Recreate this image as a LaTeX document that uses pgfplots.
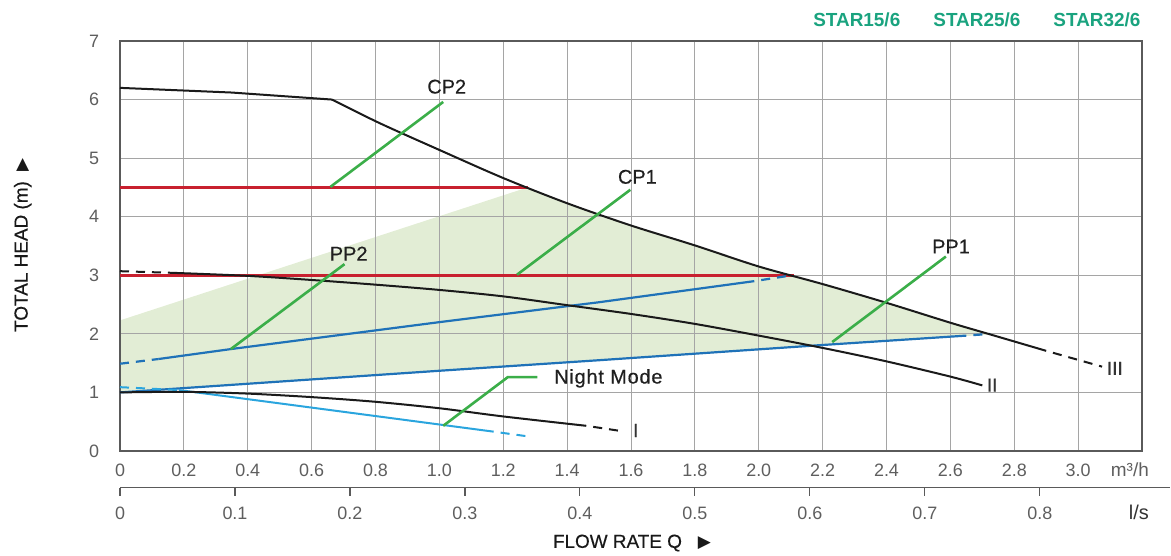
\documentclass[border=0pt]{standalone}
\usepackage{fontspec}
\setmainfont{Liberation Sans}
\newfontfamily\sym{DejaVu Sans}
\newfontfamily\med[FakeBold=0.4]{Liberation Sans}
\usepackage{pgfplots}
\pgfplotsset{compat=1.18}

\definecolor{gridgray}{HTML}{A5A5A5}
\definecolor{axisgray}{HTML}{5A5A5A}
\definecolor{ticklab}{HTML}{5E5E5E}
\definecolor{shade}{HTML}{E2EDD5}
\definecolor{cpred}{HTML}{C8202F}
\definecolor{ppblue}{HTML}{1F72B8}
\definecolor{nightblue}{HTML}{2AA5DE}
\definecolor{leader}{HTML}{3BAE49}
\definecolor{curve}{HTML}{1A1A1A}
\definecolor{star}{HTML}{1AA37F}

\begin{document}
\begin{tikzpicture}
\path (-120bp,-105bp) rectangle (1051bp,451bp);
\begin{axis}[
    at={(0,0)}, anchor=south west,
    scale only axis, width=1022bp, height=410bp,
    xmin=0, xmax=3.2, ymin=0, ymax=7,
    set layers, clip=false,
    xtick={0,0.2,0.4,0.6,0.8,1.0,1.2,1.4,1.6,1.8,2.0,2.2,2.4,2.6,2.8,3.0},
    xticklabels={0,0.2,0.4,0.6,0.8,1.0,1.2,1.4,1.6,1.8,2.0,2.2,2.4,2.6,2.8,3.0},
    ytick={0,1,2,3,4,5,6,7},
    yticklabels={0,1,2,3,4,5,6,7},
    grid=major,
    major grid style={draw=gridgray, line width=1bp},
    axis line style={draw=axisgray, line width=1.3bp},
    major tick length=0pt,
    tick label style={font=\fontsize{18}{18}\selectfont, text=ticklab},
    xticklabel style={anchor=center, yshift=-19bp},
    yticklabel style={anchor=center, xshift=-26bp},
    /pgf/number format/assume math mode=true,
    curvestyle/.style={draw=curve, line width=2bp},
    dsh/.style={dash pattern=on 9bp off 7bp},
]
% operating area
\addplot[draw=none, fill=shade, on layer=axis background] coordinates {
    (0,1.0) (0,2.23) (1.276,4.5) (1.4,4.22) (1.5,4.02) (1.6,3.85) (1.75,3.6)
    (2.0,3.14) (2.109,3.0) (2.2,2.85) (2.4,2.53) (2.6,2.19) (2.725,1.99) (0,1.0)};

% constant pressure CP1 / CP2
\addplot[draw=cpred, line width=2.6bp] coordinates {(0,4.5) (1.276,4.5)};
\addplot[draw=cpred, line width=2.6bp] coordinates {(0,3.0) (2.11,3.0)};

% proportional pressure PP2
\addplot[draw=ppblue, line width=2.2bp, dsh] coordinates {(0,1.49) (0.12,1.57)};
\addplot[draw=ppblue, line width=2.2bp] coordinates {(0.12,1.57) (0.347,1.74) (1.0,2.2) (1.5,2.54) (1.986,2.9)};
\addplot[draw=ppblue, line width=2.2bp, dsh, dash phase=9bp] coordinates {(1.986,2.9) (2.104,3.0)};
% PP1
\addplot[draw=ppblue, line width=2.2bp] coordinates {(0,1.0) (1.0,1.37) (1.5,1.55) (2.2,1.81) (2.65,1.97)};
\addplot[draw=ppblue, line width=2.2bp, dsh, dash phase=9bp] coordinates {(2.65,1.97) (2.725,2.0)};

% night mode
\addplot[draw=nightblue, line width=2bp, dsh] coordinates {(0,1.09) (0.185,1.04)};
\addplot[draw=nightblue, line width=2bp] coordinates {(0.185,1.04) (1.17,0.33)};
\addplot[draw=nightblue, line width=2bp, dsh, dash phase=9bp] coordinates {(1.17,0.33) (1.29,0.24)};

% speed III
\addplot[curvestyle] coordinates {(0,6.2) (0.35,6.12) (0.664,6.0)};
\addplot[curvestyle, smooth] coordinates {
    (0.664,6.0) (0.812,5.6) (1.0,5.14) (1.2,4.66) (1.4,4.23) (1.6,3.85) (1.8,3.51)
    (2.0,3.15) (2.2,2.85) (2.4,2.53) (2.6,2.19) (2.725,1.99) (2.9,1.71)};
\addplot[curvestyle, dsh, dash phase=9bp] coordinates {(2.9,1.71) (3.075,1.44)};
% speed II
\addplot[curvestyle, dsh] coordinates {(0,3.07) (0.175,3.04)};
\addplot[curvestyle, smooth] coordinates {
    (0.175,3.04) (0.4,2.99) (0.6,2.92) (0.8,2.84) (1.0,2.75) (1.2,2.64) (1.4,2.49)
    (1.6,2.34) (1.8,2.17) (2.0,1.97) (2.2,1.76) (2.4,1.53) (2.6,1.27) (2.7,1.12)};
% speed I
\addplot[curvestyle, smooth] coordinates {
    (0,1.0) (0.2,1.01) (0.4,0.98) (0.6,0.92) (0.8,0.84) (1.0,0.73) (1.2,0.59) (1.46,0.43)};
\addplot[curvestyle, dsh, dash phase=9bp] coordinates {(1.46,0.43) (1.57,0.34)};

% leader lines
\addplot[draw=leader, line width=2.6bp] coordinates {(0.659,4.51) (1.012,5.96)};
\addplot[draw=leader, line width=2.6bp] coordinates {(1.243,3.01) (1.598,4.46)};
\addplot[draw=leader, line width=2.6bp] coordinates {(0.347,1.74) (0.703,3.19)};
\addplot[draw=leader, line width=2.6bp] coordinates {(2.23,1.86) (2.586,3.32)};
\addplot[draw=leader, line width=2.6bp] coordinates {(1.012,0.43) (1.214,1.26) (1.307,1.26)};

% labels
\begin{scope}[every node/.style={font=\med\fontsize{20}{20}\selectfont, text=black!88}]
\node at (axis cs:1.023,6.22) {CP2};
\node at (axis cs:1.62,4.68) {CP1};
\node at (axis cs:0.716,3.37) {PP2};
\node at (axis cs:2.602,3.49) {PP1};
\node[anchor=west, inner sep=0pt] at (axis cs:1.359,1.24) {\addfontfeature{LetterSpace=4}Night Mode};
\end{scope}
\begin{scope}[every node/.style={font=\med\fontsize{19}{19}\selectfont, text=black!80}]
\node at (axis cs:1.615,0.35) {I};
\node at (axis cs:2.731,1.125) {II};
\node at (axis cs:3.115,1.41) {III};
\end{scope}
\begin{scope}[every node/.style={font=\bfseries\fontsize{19}{19}\selectfont, text=star}]
\node at (axis cs:2.307,7.36) {STAR15/6};
\node at (axis cs:2.683,7.36) {STAR25/6};
\node at (axis cs:3.059,7.36) {STAR32/6};
\end{scope}
\node[font=\fontsize{19}{19}\selectfont, text=ticklab, yshift=-19bp] at (axis cs:3.162,0) {m³/h};
\node[font=\fontsize{20}{20}\selectfont, text=black!80] at (axis cs:3.19,-1.053) {l/s};
\node[font=\med\fontsize{19}{19}\selectfont, text=black!90] at (axis cs:1.603,-1.571)
    {FLOW RATE Q\hspace{16bp}\raisebox{0.6bp}{\sym\fontsize{17}{17}\selectfont ▶}};
\node[font=\med\fontsize{19}{19}\selectfont, text=black!90, rotate=90] at (axis cs:-0.3046,3.517)
    {TOTAL HEAD (m)\hspace{10bp}\raisebox{0.6bp}{\sym\fontsize{17}{17}\selectfont ▶}};
\end{axis}

% second flow-rate scale in l/s
\begin{axis}[
    at={(0,-36.5bp)}, anchor=south west,
    scale only axis, width=1050bp, height=20bp,
    xmin=0, xmax=0.9133, ymin=0, ymax=1,
    axis x line*=bottom, axis y line=none,
    axis line style={-, draw=axisgray, line width=1.2bp},
    xtick={0,0.1,0.2,0.3,0.4,0.5,0.6,0.7,0.8},
    xticklabels={0,0.1,0.2,0.3,0.4,0.5,0.6,0.7,0.8},
    tick align=outside, major tick length=8bp,
    tick style={draw=axisgray, line width=1.2bp},
    tick label style={font=\fontsize{18}{18}\selectfont, text=ticklab},
    xticklabel style={anchor=center, yshift=-18bp},
]
\addplot[draw=none] coordinates {(0,0) (0.9,1)};
\end{axis}
\end{tikzpicture}
\end{document}
